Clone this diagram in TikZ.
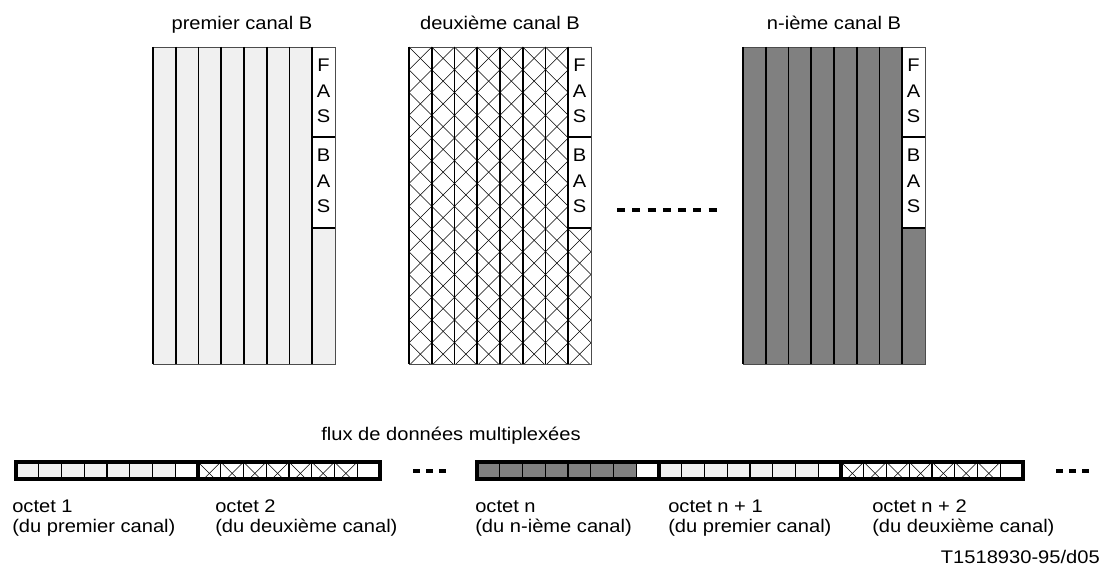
\documentclass[tikz,border=0pt]{standalone}
\usepackage{fontspec}
\setmainfont{Liberation Sans}[FakeStretch=1.1]
\usepackage{tikz}
\definecolor{clair}{gray}{0.94}
\definecolor{fonce}{gray}{0.5}
\tikzstyle{lbl}=[font=\fontsize{13}{14.5}\selectfont,
                 inner sep=0pt]
\tikzstyle{bits}=[font=\fontsize{13}{18}\selectfont,
                  align=center,
                  inner sep=0pt]
\tikzstyle{sep}=[draw=black, line width=1.3pt]
\tikzstyle{rim}=[draw=black!70, line width=0.5pt]
\tikzstyle{hatch}=[draw=black, line width=0.4pt]
\tikzstyle{bit}=[draw=black, line width=0.9pt]
\tikzstyle{octet}=[draw=black, line width=2.3pt]
\tikzstyle{dots}=[draw=black, line width=3.2pt]

% cross-hatching of a box: left, top, width, height
\newcommand{\hachures}[4]{%
  \begin{scope}
    \clip (#1,#2) rectangle ++(#3,#4);
    \foreach \k in {-16,...,24}{
      \draw[hatch] ({#1+\k*22.75},#2) -- ++(400,400);
      \draw[hatch] ({#1+\k*22.75},#2) -- ++(-400,400);
    }
  \end{scope}}

% bit columns of one B channel, with the FAS/BAS column
\newcommand{\canalcols}[2]{%
  \fill[white] ({#1+159.25},47) rectangle ++(22.75,181);
  \draw[rim] (#1,47) rectangle ++(182,317);
  \foreach \i in {0,...,7}
    \draw[sep] ({#1+\i*22.75},47) -- ++(0,317);
  \draw[sep] ({#1+159.25},137) -- ++(22.75,0);
  \draw[sep] ({#1+159.25},228) -- ++(22.75,0);
  \node[bits] (fas#2) at ({#1+170.6},91) {F\\A\\S};
  \node[bits] (bas#2) at ({#1+170.6},181) {B\\A\\S};}

% one octet of the multiplexed stream
\newcommand{\octet}[2]{%
  \fill[#2] (#1,462) rectangle ++(159.25,17);
  \fill[white] ({#1+159.25},462) rectangle ++(22.75,17);
  \foreach \i in {1,...,7}
    \draw[bit] ({#1+\i*22.75},462) -- ++(0,17);}

% two-line caption under an octet: left edge, name, octet, channel
\newcommand{\legende}[4]{%
  \node[lbl,anchor=base west] (#2) at (#1,512) {#3};
  \node[lbl,anchor=base west] (#2b) at (#1,532) {#4};}

\begin{document}
\begin{tikzpicture}[x=0.025cm,y=-0.025cm]
\useasboundingbox (0,0) rectangle (1104,577);

% B channels
\fill[clair] (153,47) rectangle ++(182,317);
\canalcols{153}{1}

\fill[white] (409,47) rectangle ++(182,317);
\hachures{409}{47}{182}{317}
\canalcols{409}{2}

\fill[fonce] (743,47) rectangle ++(182,317);
\canalcols{743}{3}

\node[lbl,anchor=base] (c1) at (242,29.5) {premier canal B};
\node[lbl,anchor=base] (c2) at (500,29.5) {deuxième canal B};
\node[lbl,anchor=base] (c3) at (834,29.5) {n-ième canal B};

\draw[dots,dash pattern=on 5.7pt off 5.15pt] (617,210) -- (717,210);

% multiplexed stream
\node[lbl,anchor=base] (flux) at (451,440) {flux de données multiplexées};

\octet{16}{clair}
\octet{198}{white}
\hachures{198}{462}{159.25}{17}
\octet{477}{fonce}
\octet{659}{clair}
\octet{841}{white}
\hachures{841}{462}{159.25}{17}
\foreach \x in {16,198,477,659,841}
  \draw[octet] (\x,462) rectangle ++(182,17);

\draw[dots,dash pattern=on 5pt off 4.3pt] (413,471) -- (446,471);
\draw[dots,dash pattern=on 5pt off 4.3pt] (1056,471) -- (1089,471);

\legende{12}{o1}{octet 1}{(du premier canal)}
\legende{215}{o2}{octet 2}{(du deuxième canal)}
\legende{475}{on}{octet n}{(du n-ième canal)}
\legende{668}{on1}{octet n + 1}{(du premier canal)}
\legende{872}{on2}{octet n + 2}{(du deuxième canal)}

\node[lbl,anchor=base east] (ref) at (1100,563) {T1518930-95/d05};

\end{tikzpicture}
\end{document}
